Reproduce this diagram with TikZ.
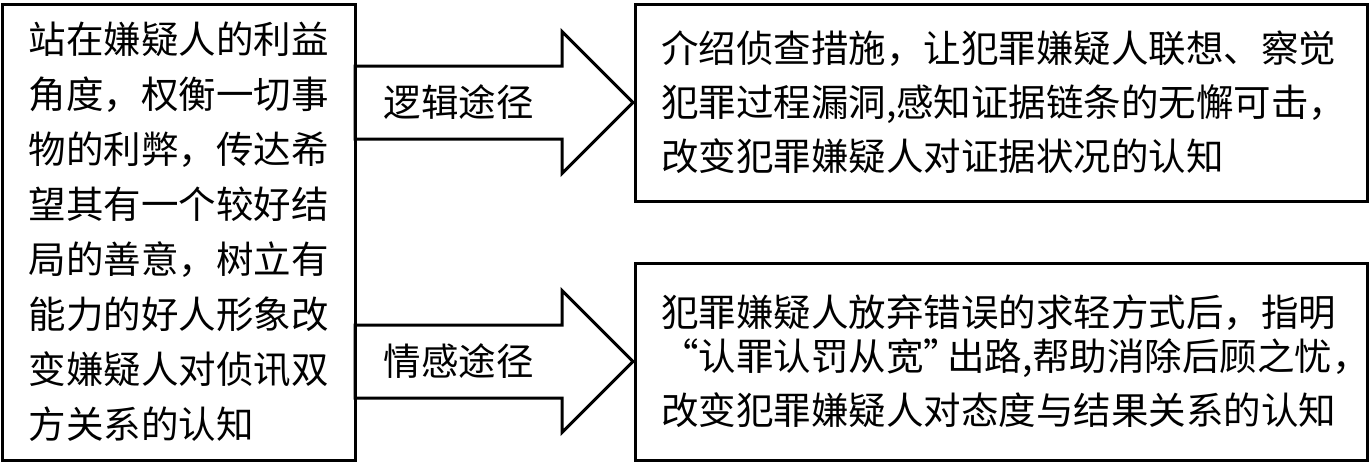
\documentclass[tikz,border=0pt]{standalone}
\usepackage{fontspec}
\newfontfamily\cjk{Noto Sans CJK SC}
\usepackage{tikz}
\usetikzlibrary{positioning,shapes.arrows}
\tikzstyle{box} = [draw, line width=3pt, inner sep=0pt, outer sep=0pt, align=left, font=\cjk\fontsize{37.5}{54}\selectfont]
\tikzstyle{way} = [draw, line width=3pt, single arrow, single arrow head extend=34.5pt, single arrow tip angle=90, minimum height=278pt, inner xsep=0pt, inner ysep=0pt, outer sep=0pt, text height=35pt, text depth=35pt]
\tikzstyle{waytext} = [inner sep=0pt, font=\cjk\fontsize{37.5}{54}\selectfont]

\begin{document}
\begin{tikzpicture}[x=1pt,y=1pt]
			\useasboundingbox (0,0) rectangle (1372,-464);
			\node[box, text width=300pt, minimum width=353pt, minimum height=456pt, font=\cjk\fontsize{37.5}{55}\selectfont] (lft) at (178.5,-232) {站在嫌疑人的利益\\角度，权衡一切事\\物的利弊，传达希\\望其有一个较好结\\局的善意，树立有\\能力的好人形象改\\变嫌疑人对侦讯双\\方关系的认知};
			\node[box, text width=680pt, minimum width=732pt, minimum height=197pt] (logic) at (1001,-102.5) {介绍侦查措施，让犯罪嫌疑人联想、察觉\\犯罪过程漏洞,感知证据链条的无懈可击，\\改变犯罪嫌疑人对证据状况的认知};
			\node[box, text width=680pt, minimum width=732pt, minimum height=197pt] (emotion) at (1001,-361.5) {犯罪嫌疑人放弃错误的求轻方式后，指明\\\kern-10pt“认罪认罚从宽”\kern-14pt出路,帮助消除后顾之忧，\\改变犯罪嫌疑人对态度与结果关系的认知};
			\node[way, anchor=tail] (w1) at (lft.east |- logic.west) {};
			\node[way, anchor=tail] (w2) at (lft.east |- emotion.west) {};
			\path (w1.tail) -- (w1.before head |- w1.tail) node[waytext, midway] (w1t) {逻辑途径};
			\path (w2.tail) -- (w2.before head |- w2.tail) node[waytext, midway] (w2t) {情感途径};
		\end{tikzpicture}
\end{document}
